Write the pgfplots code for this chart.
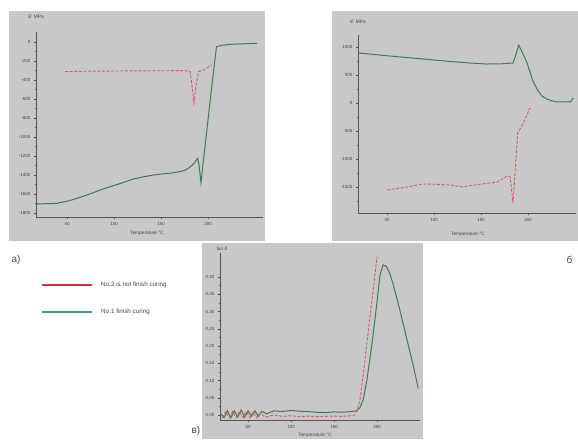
\documentclass[border=0pt]{standalone}
\usepackage{fontspec}
\setmainfont{Liberation Sans}
\usepackage{pgfplots}
\pgfplotsset{compat=1.18}

\definecolor{panelbg}{RGB}{200,200,200}
\definecolor{axisgray}{RGB}{85,85,85}
\definecolor{labelgray}{RGB}{70,70,70}
\definecolor{curedgreen}{RGB}{60,125,80}
\definecolor{uncuredred}{RGB}{225,85,95}
\definecolor{legred}{RGB}{215,45,65}
\definecolor{leggreen}{RGB}{60,160,120}

\newcommand{\ticksize}{\fontsize{4.5}{4.5}\selectfont}
\newcommand{\labsize}{\fontsize{4.8}{5}\selectfont}

\pgfplotsset{
  dma/.style={
    scale only axis,
    anchor=south west,
    axis lines=left,
    axis line style={-, draw=axisgray, line width=0.8pt},
    tick align=outside,
    major tick length=2pt,
    minor tick length=1pt,
    tick style={draw=axisgray, line width=0.4pt},
    minor x tick num=4,
    minor y tick num=1,
    ticklabel style={font=\ticksize, text=labelgray},
    /pgf/number format/assume math mode=true,
    /pgf/number format/1000 sep={},
    xtick={50,100,150,200},
  },
  cured/.style={curedgreen, line width=1pt, mark=none},
  uncured/.style={uncuredred, line width=0.9pt, mark=none, dash pattern=on 3pt off 1.6pt},
}

\begin{document}
\begin{tikzpicture}
\path[use as bounding box] (0pt,0pt) rectangle (578pt,-439pt);

% panel backgrounds
\fill[panelbg] (9pt,-11pt) rectangle (265pt,-241pt);
\fill[panelbg] (332pt,-11pt) rectangle (578pt,-241pt);
\fill[panelbg] (202pt,-243pt) rectangle (423pt,-439pt);

% a) storage modulus, sample No.1 and No.2
\begin{axis}[dma, at={(36pt,-217pt)}, width=227pt, height=185pt,
  xmin=17, xmax=258.5, ymin=-1842, ymax=105,
  ytick={-1800,-1600,-1400,-1200,-1000,-800,-600,-400,-200,0}]
\addplot[cured] coordinates {
  (17.7,-1705) (28,-1702) (39,-1698) (47,-1682) (55,-1663) (63,-1638) (71,-1611)
  (80,-1578) (88,-1549) (96,-1523) (105,-1495) (113,-1468) (120.5,-1442)
  (131,-1420) (142,-1400) (152,-1388) (162,-1378) (170,-1365) (175,-1352)
  (179,-1330) (183,-1300) (186,-1265) (189,-1225) (190.5,-1300) (192.5,-1481)
  (196,-1170) (200,-820) (204,-470) (209,-49) (215,-35) (223,-25) (237,-19) (252,-14)
};
\addplot[uncured] coordinates {
  (48,-312) (70,-308) (95,-306) (120,-304) (145,-303) (165,-302) (175.5,-302)
  (181,-312) (183,-460) (185,-645) (187,-470) (190,-312) (194,-300)
  (199,-272) (204,-242)
};
\end{axis}
\node[font=\labsize, text=labelgray] at (36pt,-17pt) {E' MPa};
\node[font=\labsize, text=labelgray] at (147pt,-233pt) {Temperature °C};
\node[font=\fontsize{10}{10}\selectfont, text=labelgray, anchor=west] at (8pt,-260pt) {a)};

% б) storage modulus, second test
\begin{axis}[dma, at={(358pt,-213pt)}, width=218pt, height=178pt,
  xmin=19.1, xmax=251, ymin=-1964, ymax=1214,
  ytick={-2000,-1500,-1000,-500,0,500,1000}]
\addplot[cured] coordinates {
  (19.1,893) (35,868) (53,839) (70,812) (88,786) (106,758) (124,732) (140,712)
  (156,696) (172,700) (184,714) (187,860) (190,1036) (194,900) (199,711)
  (205,400) (210,232) (215,120) (220,70) (226,35) (231,18) (245,18) (248,89)
};
\addplot[uncured] coordinates {
  (50,-1554) (60,-1530) (71,-1500) (80,-1470) (88,-1446) (100,-1450) (117,-1464)
  (131,-1500) (141,-1470) (151,-1446) (160,-1428) (167,-1410) (173,-1355)
  (178,-1300) (181,-1320) (184,-1786) (189,-536) (195,-357) (202,-90)
};
\end{axis}
\node[font=\labsize, text=labelgray] at (358pt,-22pt) {E' MPa};
\node[font=\labsize, text=labelgray] at (468pt,-234pt) {Temperature °C};
\node[font=\fontsize{10}{10}\selectfont, text=labelgray, anchor=west] at (563pt,-260pt) {б};

% legend
\draw[legred, line width=1.8pt] (42pt,-285pt) -- (92pt,-285pt);
\node[font=\fontsize{6.3}{7}\selectfont, text=labelgray, anchor=west, inner sep=0pt] at (101pt,-285pt) {No.2 is not finish curing};
\draw[leggreen, line width=1.8pt] (42pt,-312pt) -- (92pt,-312pt);
\node[font=\fontsize{6.3}{7}\selectfont, text=labelgray, anchor=west, inner sep=0pt] at (101pt,-312pt) {No.1 finish curing};

% в) loss factor
\begin{axis}[dma, at={(220pt,-420pt)}, width=200pt, height=167pt,
  xmin=17.4, xmax=250, ymin=-0.0145, ymax=0.4696,
  ytick={0,0.05,0.10,0.15,0.20,0.25,0.30,0.35,0.40},
  yticklabel style={/pgf/number format/fixed, /pgf/number format/fixed zerofill,
    /pgf/number format/precision=2}]
\addplot[cured] coordinates {
  (18,0.005) (22,-0.008) (26,0.012) (30,-0.008) (34,0.012) (38,-0.006) (42,0.014)
  (46,-0.006) (50,0.012) (54,-0.004) (58,0.012) (62,-0.004) (66,0.010) (72,0.004)
  (80,0.012) (90,0.010) (100,0.013) (110,0.011) (120,0.010) (130,0.008)
  (140,0.007) (150,0.009) (160,0.008) (170,0.010) (176,0.012) (180,0.020)
  (184,0.045) (188,0.097) (194,0.203) (200,0.328) (203.5,0.406) (207,0.435)
  (211,0.430) (215,0.410) (219,0.377) (227,0.300) (234.5,0.222) (242,0.145) (248,0.077)
};
\addplot[uncured] coordinates {
  (20,-0.008) (24,0.010) (28,-0.008) (32,0.010) (36,-0.008) (40,0.010) (44,-0.008)
  (48,0.010) (52,-0.008) (56,0.008) (60,-0.008) (64,0.006) (70,-0.006) (80,0.000)
  (90,-0.004) (100,-0.002) (110,-0.005) (120,-0.003) (130,-0.005) (140,-0.004)
  (150,-0.003) (160,-0.004) (170,-0.002) (174,0.000) (177,0.015) (180,0.040)
  (184,0.116) (188,0.203) (194,0.328) (200,0.459)
};
\end{axis}
\node[font=\labsize, text=labelgray] at (222pt,-249pt) {tan δ};
\node[font=\labsize, text=labelgray] at (315pt,-435pt) {Temperature °C};
\node[font=\fontsize{10}{10}\selectfont, text=labelgray, anchor=west] at (188pt,-431pt) {в)};
\end{tikzpicture}
\end{document}
